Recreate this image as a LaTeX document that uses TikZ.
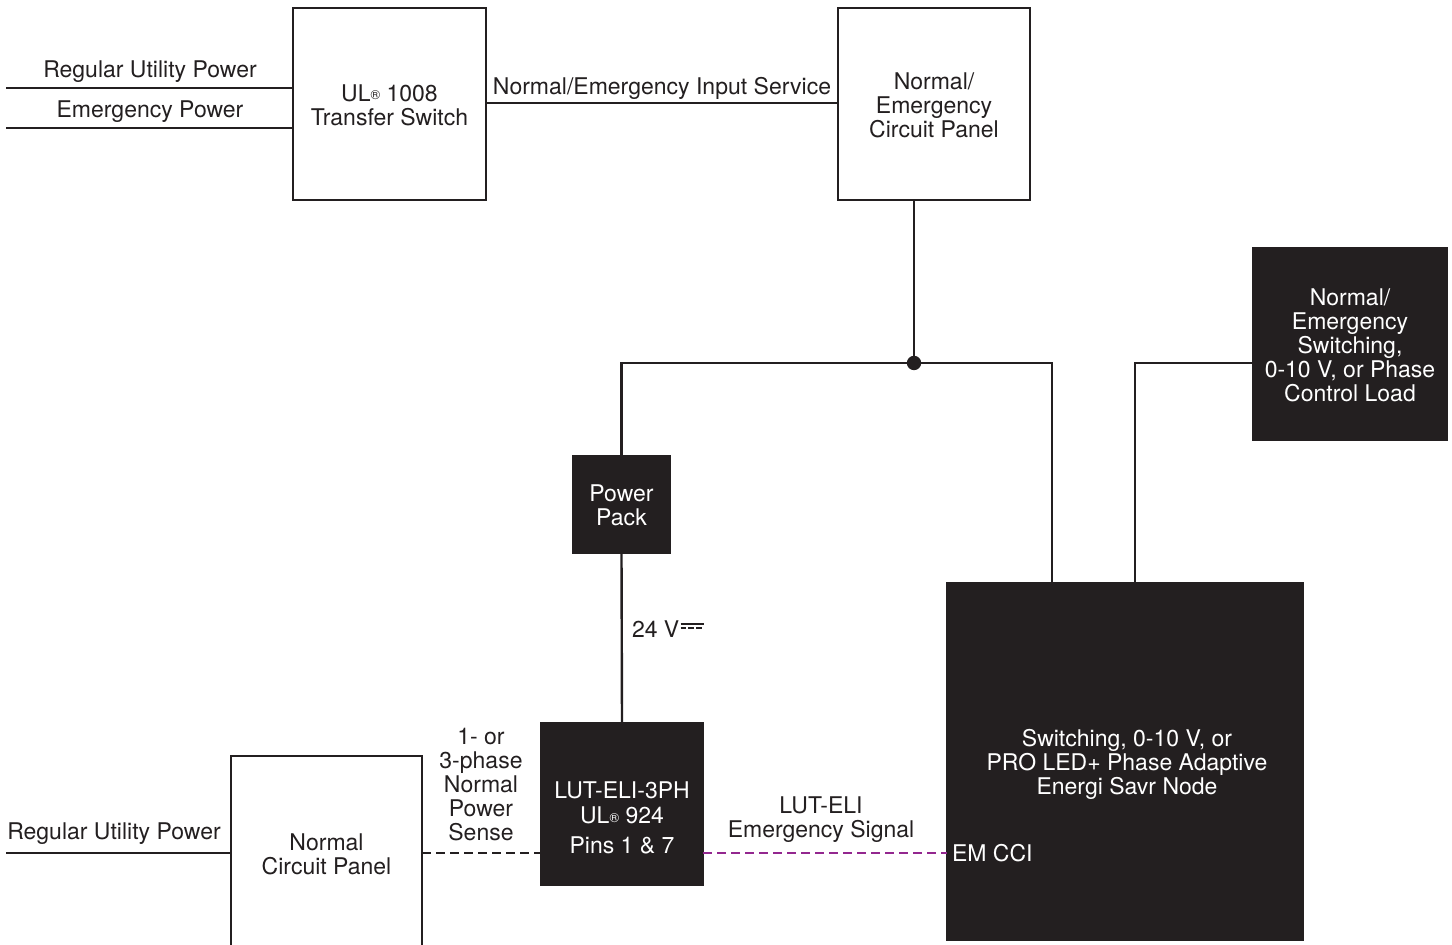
\documentclass[tikz,border=0pt]{standalone}
\usepackage{fontspec}
\setmainfont{TeX Gyre Heros}
\begin{document}
\definecolor{ink}{HTML}{231F20}
\definecolor{emsig}{HTML}{93278F}
\newcommand{\ulmark}{UL\raisebox{0.1ex}{\fontsize{6.5}{6.5}\selectfont\textregistered}}
\begin{tikzpicture}[x=0.5pt,y=-0.5pt,
  every node/.style={inner sep=0pt, outer sep=0pt, text=ink,
    font=\fontsize{11.5}{12}\selectfont, align=center},
  openbox/.style={draw=ink, line width=1.2pt, fill=white},
  darkbox/.style={draw=ink, line width=1.2pt, fill=ink, text=white},
  wire/.style={draw=ink, line width=1.2pt},
  sensewire/.style={draw=ink, line width=1.2pt, dash pattern=on 4.5pt off 2.5pt},
  emwire/.style={draw=emsig, line width=1.2pt, dash pattern=on 4.5pt off 2.5pt},
  lbl/.style={anchor=center}]
\path[use as bounding box, clip] (0,0) rectangle (1452,945);

% equipment blocks
\node[openbox, minimum width=96.5pt, minimum height=96pt] (ts) at (389.5,104) {};
\node (tstext) at (389.5,105) {\ulmark{} 1008\\Transfer Switch};
\node[openbox, minimum width=96pt, minimum height=96pt] (nep) at (934,104) {};
\node (neptext) at (934,105) {Normal/\\Emergency\\Circuit Panel};
\node[darkbox, minimum width=48.5pt, minimum height=48.5pt] (pp) at (621.5,504.5) {};
\node[text=white] (pptext) at (621.5,505) {Power\\Pack};
\node[darkbox, minimum width=81pt, minimum height=81pt] (lut) at (622,804) {};
\node[text=white] (luttext) at (622,818)
  {LUT-ELI-3PH\\[0.5pt]\ulmark{} 924\\[3pt]Pins 1 \& 7};
\node[openbox, minimum width=95.5pt, minimum height=97pt] (ncp) at (326.5,853) {};
\node (ncptext) at (326.5,854) {Normal\\Circuit Panel};
\node[darkbox, minimum width=178pt, minimum height=178.5pt] (big) at (1125,761.5) {};
\node[text=white] (bigtext) at (1127,764)
  {Switching, 0-10 V, or\\PRO LED+ Phase Adaptive\\Energi Savr Node};
\node[darkbox, minimum width=97pt, minimum height=96pt] (load) at (1350,344) {};
\node[text=white] (loadtext) at (1350,345)
  {Normal/\\Emergency\\Switching,\\0-10 V, or Phase\\Control Load};
\node[anchor=west, text=white] (emcci) at (952,853) {EM CCI};

% free ends and bends
\coordinate (rup) at (6,88);
\coordinate (emp) at (6,128);
\coordinate (rup2) at (6,853);
\coordinate (junc) at (914,363);
\coordinate (jr) at (1052,363);
\coordinate (lc) at (1135,363);

% power feeds
\draw[wire] (rup) -- (rup -| ts.west);
\draw[wire] (emp) -- (emp -| ts.west);
\draw[wire] (ts.east |- 0,103) -- (nep.west |- 0,103);
\draw[wire] (junc |- nep.south) -- (junc);
\draw[wire] (pp.north) |- (jr) -- (jr |- big.north);
\fill[ink] (junc) circle (3.6pt);
\draw[wire] (lc |- big.north) -- (lc) -- (lc -| load.west);
\draw[wire] (pp.south) -- (lut.north);
\draw[wire] (rup2) -- (ncp.west);
\draw[sensewire] (ncp.east) -- (ncp.east -| lut.west);
\draw[emwire] (lut.east |- ncp.east) -- (big.west |- ncp.east);

% wire labels
\node[lbl] (l1) at (150,72) {Regular Utility Power};
\node[lbl] (l2) at (150,112) {Emergency Power};
\node[lbl] (l3) at (662,88) {Normal/Emergency Input Service};
\node[lbl] (l4) at (114,834) {Regular Utility Power};
\node[lbl] (l5) at (481,785) {1- or\\3-phase\\Normal\\Power\\Sense};
\node[lbl] (l6) at (821,820) {LUT-ELI\\Emergency Signal};
\node[anchor=west] (l7) at (632,629) {24 V};
% direct-current sign
\draw[ink, line width=0.75pt] ([xshift=0.6pt,yshift=2.6pt]l7.east) -- ++(11.5pt,0);
\draw[ink, line width=0.75pt, dash pattern=on 2.6pt off 1.35pt]
  ([xshift=0.6pt,yshift=0.5pt]l7.east) -- ++(11.5pt,0);
\end{tikzpicture}
\end{document}
